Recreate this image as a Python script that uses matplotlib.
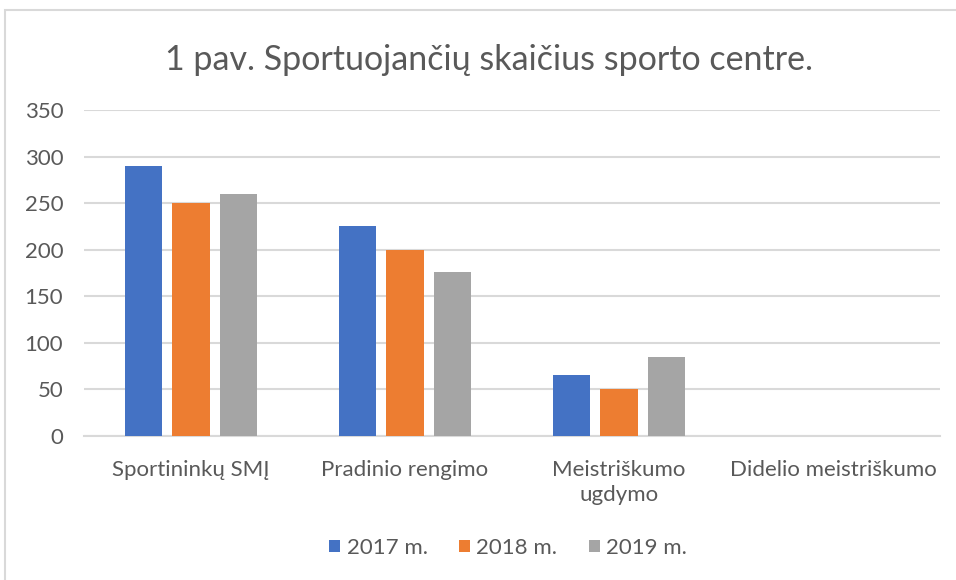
import matplotlib.pyplot as plt
import numpy as np
from matplotlib.patches import Rectangle

categories = ['Sportininkų SMĮ', 'Pradinio rengimo', 'Meistriškumo\nugdymo', 'Didelio meistriškumo']
series_names = ['2017 m.', '2018 m.', '2019 m.']
values_2017 = [290, 225, 65, 0]
values_2018 = [250, 200, 50, 0]
values_2019 = [260, 176, 85, 0]
colors = ['#4472c4', '#ed7d31', '#a5a5a5']

plt.rcParams['font.family'] = ['Lato', 'DejaVu Sans']

fig = plt.figure(figsize=(9.56, 5.8), dpi=100)
ax = fig.add_axes([84 / 956, 1 - 436 / 580, 856 / 956, 326 / 580])

# light frame around the chart
fig.patches.append(Rectangle((5 / 956, -0.05), 1.2, (570 / 580) + 0.05,
                             transform=fig.transFigure, fill=False,
                             edgecolor='#d9d9d9', linewidth=1.5))

x = np.arange(len(categories))
width = 0.173
step = 0.22
for i, (vals, name) in enumerate(zip([values_2017, values_2018, values_2019], series_names)):
    ax.bar(x + (i - 1) * step, vals, width, color=colors[i], label=name, zorder=3)

ax.set_xlim(-0.5, 3.5)
ax.set_ylim(0, 350)
ax.set_yticks(range(0, 351, 50))
ax.yaxis.grid(True, color='#d9d9d9', linewidth=1.5, zorder=0)
ax.set_axisbelow(True)
for s in ['top', 'right', 'left']:
    ax.spines[s].set_visible(False)
ax.spines['bottom'].set_color('#d9d9d9')
ax.spines['bottom'].set_linewidth(1.5)

ax.set_xticks(x)
ax.set_xticklabels(categories, fontsize=16, color='#595959', linespacing=1.35, va='top')
ax.tick_params(axis='x', length=0, pad=17)
ax.tick_params(axis='y', length=0, pad=15, labelsize=16, labelcolor='#595959')

fig.text(489 / 956, 1 - 60 / 580, '1 pav. Sportuojančių skaičius sporto centre.',
         ha='center', va='center', fontsize=24.5, color='#595959')

fig.legend(loc='center', bbox_to_anchor=(508 / 956, 1 - 548 / 580), ncol=3,
           frameon=False, fontsize=16, labelcolor='#595959',
           handlelength=0.5, handleheight=0.5, handletextpad=0.3, columnspacing=1.4)

fig.savefig('out.png', dpi=100)
